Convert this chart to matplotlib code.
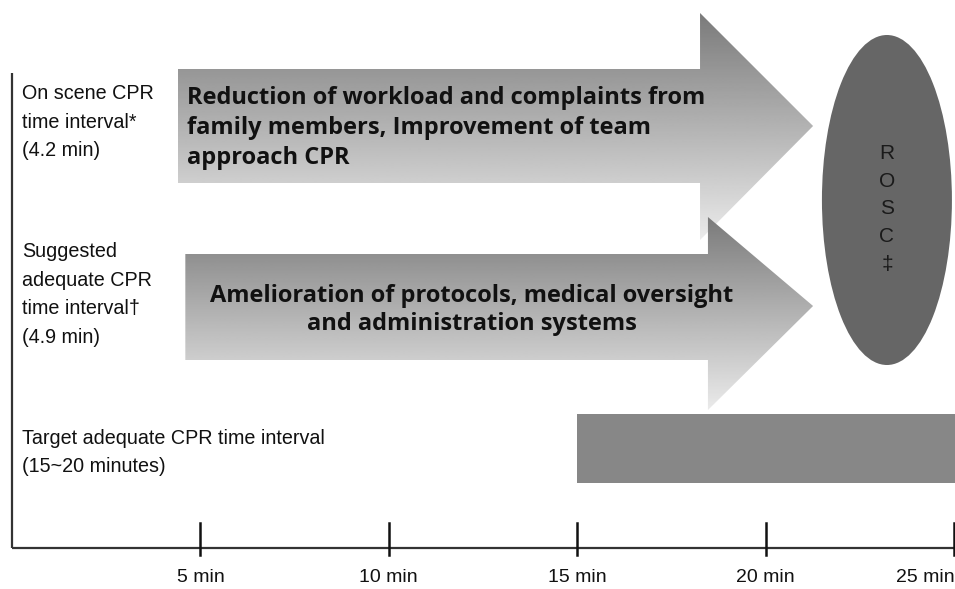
import numpy as np
import matplotlib.pyplot as plt
from matplotlib.patches import Polygon, Ellipse, Rectangle

# time axis (minutes)
ticks = [5, 10, 15, 20, 25]
tick_labels = ['5 min', '10 min', '15 min', '20 min', '25 min']

# arrows: start of body, end of body (head base), tip  (minutes)
arrow_start = [4.4, 4.6]
arrow_base = [18.26, 18.47]
arrow_tip = [21.26, 21.26]
# vertical layout of arrows (rows, top->bottom): head top, body top, centre, body bottom, head bottom
arrow_rows = [(13, 69, 126, 183, 240), (217, 254, 306, 360, 410)]
arrow_texts = ['Reduction of workload and complaints from\nfamily members, Improvement of team\napproach CPR',
               'Amelioration of protocols, medical oversight\nand administration systems']

# target interval bar
target = (15, 25)
rosc_x = 23.22
rosc_w = 3.45

left_labels = ['On scene CPR\ntime interval*\n(4.2 min)',
               'Suggested\nadequate CPR\ntime interval\u2020\n(4.9 min)',
               'Target adequate CPR time interval\n(15~20 minutes)']
left_y = [122, 294.5, 452.5]

px = 25 / 942.0
fig = plt.figure(figsize=(9.55, 5.89), dpi=100)
ax = fig.add_axes([0, 0, 1, 1])
ax.axis('off')

plain = ['Liberation Sans', 'DejaVu Sans']
bold = ['Open Sans', 'Lato', 'DejaVu Sans']

grad = np.linspace(0.48, 0.92, 256).reshape(-1, 1)
for i in range(2):
    ht, bt, c, bb, hb = arrow_rows[i]
    x0, xb, xt = arrow_start[i], arrow_base[i], arrow_tip[i]
    verts = [(x0, bt), (xb, bt), (xb, ht), (xt, c), (xb, hb), (xb, bb), (x0, bb)]
    poly = Polygon(verts, closed=True, facecolor='none', edgecolor='none')
    ax.add_patch(poly)
    im = ax.imshow(grad, cmap='gray', vmin=0, vmax=1, aspect='auto', origin='upper',
                   extent=(x0, xt, hb, ht), interpolation='bilinear')
    im.set_clip_path(poly)

ax.text(4.65, 128, arrow_texts[0], ha='left', va='center', fontsize=17, fontweight='bold',
        family=bold, linespacing=1.32, color='#111111')
ax.text(12.2, 310, arrow_texts[1], ha='center', va='center', fontsize=17, fontweight='bold',
        family=bold, linespacing=1.25, color='#111111')

ax.add_patch(Ellipse((rosc_x, 200), rosc_w, 330, facecolor='#666666', edgecolor='none'))
ax.text(rosc_x, 209, 'R\nO\nS\nC\n\u2021', ha='center', va='center', fontsize=15,
        family=plain, linespacing=1.58, color='#1a1a1a')

ax.add_patch(Rectangle((target[0], 414), target[1] - target[0] + 1, 69,
                       facecolor='#878787', edgecolor='none'))

for lab, y in zip(left_labels, left_y):
    ax.text(10 * px, y, lab, ha='left', va='center', fontsize=14.2, family=plain,
            linespacing=1.66, color='#111111')

# axes lines
ax.plot([0, 0], [73, 548], color='#333333', lw=1.6, solid_capstyle='butt')
ax.plot([0, 26], [548, 548], color='#333333', lw=1.6, solid_capstyle='butt')
for t, lab in zip(ticks, tick_labels):
    ax.plot([t, t], [523, 555], color='#111111', lw=1.8)
    if t == ticks[-1]:
        ax.text(943 * px, 578, lab, ha='right', va='center', fontsize=14, family=plain, color='#111111')
    else:
        ax.text(t, 578, lab, ha='center', va='center', fontsize=14, family=plain, color='#111111')

ax.set_xlim(-12 * px, 943 * px)
ax.set_ylim(589, 0)
fig.savefig('out.png', dpi=100, facecolor='white')
